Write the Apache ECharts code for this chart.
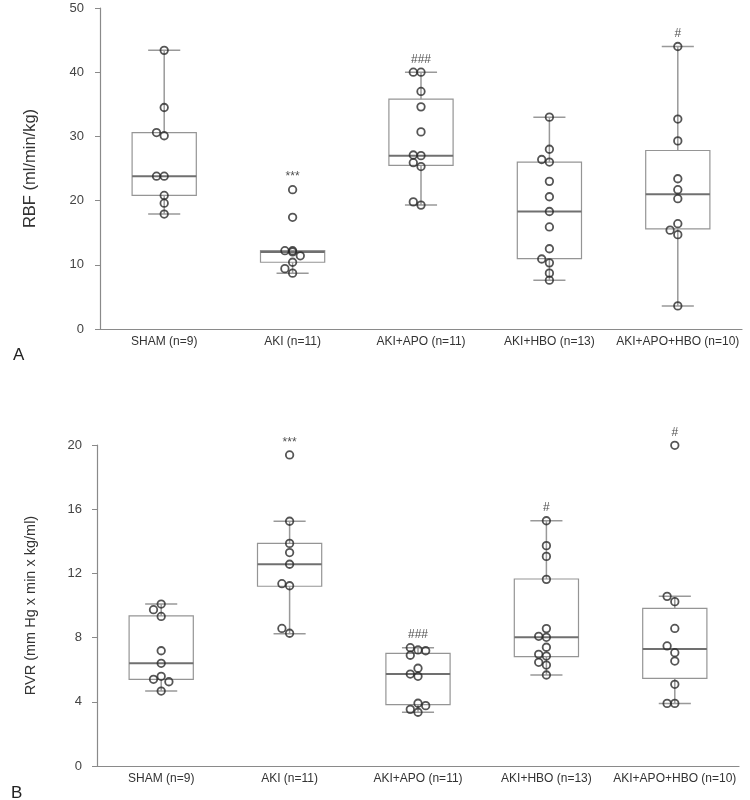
<!DOCTYPE html>
<html>
<head>
<meta charset="utf-8">
<script src="https://cdn.jsdelivr.net/npm/echarts@6/dist/echarts.min.js"></script>
<style>html,body{margin:0;padding:0;background:#fff;}#c{width:750px;height:800px;}</style>
</head>
<body>
<div id="c"></div>
<script>
// ---------- DATA ----------
const categories = ['SHAM (n=9)', 'AKI (n=11)', 'AKI+APO (n=11)', 'AKI+HBO (n=13)', 'AKI+APO+HBO (n=10)'];

// Panel A: RBF (ml/min/kg), individual observations
const rbfSham = [43.4, 34.5, 30.1, 30.6, 23.8, 23.8, 20.8, 19.6, 17.9];
const rbfAki = [21.7, 17.4, 12.2, 12.2, 11.4, 12.0, 10.4, 9.4, 8.7];
const rbfAkiApo = [40.0, 40.0, 37.0, 34.6, 30.7, 27.0, 27.1, 25.3, 25.9, 19.3, 19.8];
const rbfAkiHbo = [33.0, 28.0, 26.0, 26.4, 23.0, 20.6, 18.3, 15.9, 12.5, 10.3, 10.9, 7.6, 8.7];
const rbfAkiApoHbo = [44.0, 32.7, 29.3, 23.4, 21.7, 20.3, 16.4, 14.7, 15.4, 3.6];
// box stats: [lower whisker, Q1, median, Q3, upper whisker]
const rbfBoxes = [
  [17.9, 20.8, 23.8, 30.6, 43.4],
  [8.7, 10.4, 12.0, 12.2, 12.2],
  [19.3, 25.5, 27.0, 35.8, 40.0],
  [7.6, 10.95, 18.3, 26.0, 33.0],
  [3.6, 15.6, 21.0, 27.8, 44.0]
];
const rbfMarks = ['', '***', '###', '', '#'];
const rbfTicks = [0, 10, 20, 30, 40, 50];

// Panel B: RVR (mm Hg x min x kg/ml)
const rvrSham = [10.09, 9.32, 9.74, 7.18, 6.40, 5.59, 5.40, 5.25, 4.67];
const rvrAki = [19.38, 15.25, 13.87, 13.3, 12.57, 11.23, 11.36, 8.27, 8.57];
const rvrAkiApo = [7.23, 7.37, 7.18, 6.90, 6.09, 5.59, 5.73, 3.35, 3.53, 3.76, 3.91];
const rvrAkiHbo = [15.28, 13.73, 13.06, 11.63, 8.56, 8.02, 8.08, 7.40, 6.85, 6.96, 6.29, 6.46, 5.67];
const rvrAkiApoHbo = [19.98, 10.24, 10.57, 8.57, 7.06, 7.48, 6.54, 5.09, 3.90, 3.90];
const rvrBoxes = [
  [4.67, 5.40, 6.40, 9.35, 10.09],
  [8.24, 11.2, 12.57, 13.87, 15.25],
  [3.35, 3.82, 5.73, 7.02, 7.37],
  [5.67, 6.81, 8.02, 11.65, 15.28],
  [3.90, 5.46, 7.29, 9.82, 10.57]
];
const rvrMarks = ['', '***', '###', '#', '#'];
const rvrTicks = [0, 4, 8, 12, 16, 20];

// ---------- STYLE ----------
const FONT = 'Liberation Sans, Arial, sans-serif';
const LANE_PX = 7.7;
const COLLIDE_PX = 7;
const PLOT_H = 321;

function lanes(values, unitsPerPx) {
  const T = COLLIDE_PX * unitsPerPx;
  const placed = [];
  return values.map(v => {
    let chosen = 0, ok = false;
    for (const ln of [0, -1, 1]) {
      if (!placed.some(p => p.l === ln && Math.abs(p.v - v) < T)) { chosen = ln; ok = true; break; }
    }
    if (!ok) chosen = 0;
    placed.push({ v: v, l: chosen });
    return chosen;
  });
}

function pointData(groups, unitsPerPx) {
  const out = [];
  groups.forEach((vals, gi) => {
    const ls = lanes(vals, unitsPerPx);
    vals.forEach((v, i) => out.push({ value: [gi, v], symbolOffset: [ls[i] * LANE_PX, 0] }));
  });
  return out;
}

function markData(groups, marks) {
  const out = [];
  marks.forEach((m, gi) => {
    if (m) out.push({ value: [gi, Math.max.apply(null, groups[gi])], label: { formatter: m } });
  });
  return out;
}

function renderBox(params, api) {
  const x = api.value(0);
  const lo = api.coord([x, api.value(1)]);
  const q1 = api.coord([x, api.value(2)]);
  const md = api.coord([x, api.value(3)]);
  const q3 = api.coord([x, api.value(4)]);
  const hi = api.coord([x, api.value(5)]);
  const bw = api.size([1, 0])[0] * 0.5;
  const h = bw / 2, c = h / 2;
  const cx = md[0];
  const wStyle = { stroke: '#999', lineWidth: 1.5 };
  return {
    type: 'group',
    children: [
      { type: 'line', shape: { x1: cx, y1: hi[1], x2: cx, y2: q3[1] }, style: wStyle },
      { type: 'line', shape: { x1: cx, y1: q1[1], x2: cx, y2: lo[1] }, style: wStyle },
      { type: 'line', shape: { x1: cx - c, y1: hi[1], x2: cx + c, y2: hi[1] }, style: wStyle },
      { type: 'line', shape: { x1: cx - c, y1: lo[1], x2: cx + c, y2: lo[1] }, style: wStyle },
      { type: 'rect', shape: { x: cx - h, y: q3[1], width: bw, height: q1[1] - q3[1] },
        style: { fill: 'none', stroke: '#959595', lineWidth: 1.2 } },
      { type: 'line', shape: { x1: cx - h, y1: md[1], x2: cx + h, y2: md[1] },
        style: { stroke: '#707070', lineWidth: 2 } }
    ]
  };
}

function boxData(boxes) { return boxes.map((b, i) => [i].concat(b)); }

const rbfGroups = [rbfSham, rbfAki, rbfAkiApo, rbfAkiHbo, rbfAkiApoHbo];
const rvrGroups = [rvrSham, rvrAki, rvrAkiApo, rvrAkiHbo, rvrAkiApoHbo];

function xAxisCfg(gi) {
  return {
    type: 'category', gridIndex: gi, data: categories, boundaryGap: true,
    axisLine: { lineStyle: { color: '#8a8a8a', width: 1.2 } },
    axisTick: { length: 5, lineStyle: { color: '#8a8a8a' } },
    axisLabel: { color: '#333', fontSize: 12, fontFamily: FONT, margin: 7, interval: 0 }
  };
}
function yAxisCfg(gi, ticks, name, nameSize, gap, margin) {
  return {
    type: 'value', gridIndex: gi, min: ticks[0], max: ticks[ticks.length - 1],
    interval: ticks[1] - ticks[0],
    name: name, nameLocation: 'middle', nameGap: gap,
    nameTextStyle: { color: '#333', fontSize: nameSize, fontFamily: FONT },
    axisLine: { show: true, lineStyle: { color: '#8a8a8a', width: 1.2 } },
    axisTick: { show: true, length: 5, lineStyle: { color: '#8a8a8a' } },
    axisLabel: { color: '#444', fontSize: 13, fontFamily: FONT, margin: margin },
    splitLine: { show: false }
  };
}

function seriesFor(gi, groups, boxes, marks, ticks) {
  const upp = (ticks[ticks.length - 1] - ticks[0]) / PLOT_H;
  return [
    { type: 'custom', xAxisIndex: gi, yAxisIndex: gi, renderItem: renderBox,
      data: boxData(boxes), encode: { x: 0, y: [1, 2, 3, 4, 5] }, z: 2, silent: true },
    { type: 'scatter', xAxisIndex: gi, yAxisIndex: gi, data: pointData(groups, upp),
      symbol: 'circle', symbolSize: 7.5, z: 3, silent: true,
      itemStyle: { color: 'rgba(0,0,0,0)', borderColor: '#2a2a2a', borderWidth: 1.8 } },
    { type: 'scatter', xAxisIndex: gi, yAxisIndex: gi, data: markData(groups, marks),
      symbol: 'circle', symbolSize: 7.5, z: 4, silent: true,
      itemStyle: { color: 'rgba(0,0,0,0)', borderWidth: 0 },
      label: { show: true, position: 'top', distance: 3, color: '#222', fontSize: 12,
               fontFamily: FONT } }
  ];
}

const chart = echarts.init(document.getElementById('c'), null, { renderer: 'canvas' });
chart.setOption({
  animation: false,
  backgroundColor: '#fff',
  title: [
    { text: 'A', left: 8, top: 342, textStyle: { fontSize: 17, fontWeight: 'normal', color: '#222', fontFamily: FONT } },
    { text: 'B', left: 6, top: 780, textStyle: { fontSize: 17, fontWeight: 'normal', color: '#222', fontFamily: FONT } }
  ],
  grid: [
    { left: 100, right: 8, top: 8, height: PLOT_H },
    { left: 97, right: 11, top: 445, height: PLOT_H }
  ],
  xAxis: [xAxisCfg(0), xAxisCfg(1)],
  yAxis: [
    yAxisCfg(0, rbfTicks, 'RBF (ml/min/kg)', 16.5, 61, 16),
    yAxisCfg(1, rvrTicks, 'RVR (mm Hg x min x kg/ml)', 14.5, 59, 15)
  ],
  series: seriesFor(0, rbfGroups, rbfBoxes, rbfMarks, rbfTicks)
    .concat(seriesFor(1, rvrGroups, rvrBoxes, rvrMarks, rvrTicks))
});
</script>
</body>
</html>
